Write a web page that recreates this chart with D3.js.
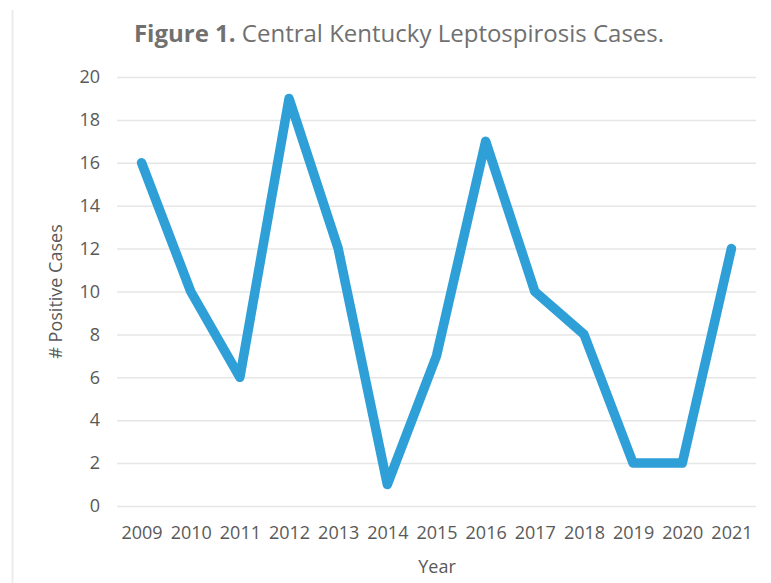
<!DOCTYPE html>
<html>
<head>
<meta charset="utf-8">
<script src="https://cdn.jsdelivr.net/npm/d3@7"></script>
<style>
  body { margin: 0; background: #fff; }
  text { font-family: "Open Sans", sans-serif; }
</style>
</head>
<body>
<div id="d3-container"></div>
<script>
// chart data
const years = ['2009', '2010', '2011', '2012', '2013', '2014', '2015', '2016', '2017', '2018', '2019', '2020', '2021'];
const cases = [16, 10, 6, 19, 12, 1, 7, 17, 10, 8, 2, 2, 12];
const yTicks = [0, 2, 4, 6, 8, 10, 12, 14, 16, 18, 20];

let margin = { top: 77, left: 117, right: 15, bottom: 77 },
  width = 771 - margin.left - margin.right,
  height = 583 - margin.top - margin.bottom;

let svg = d3
  .select('#d3-container')
  .append('svg')
  .attr('width', 771)
  .attr('height', 583)
  .style('background-color', 'white');

// faint frame line on the left
svg.append('line')
  .attr('x1', 12.5).attr('x2', 12.5)
  .attr('y1', 10).attr('y2', 583)
  .attr('stroke', '#ececec')
  .attr('stroke-width', 2);

var xScale = d3.scalePoint().domain(years).range([0, width]).padding(0.5),
  yScale = d3.scaleLinear().domain([0, 20]).range([height, 0]);

var g = svg.append('g').attr('transform', 'translate(' + margin.left + ',' + margin.top + ')');

// gridlines + y labels
var yAxis = g.append('g')
  .call(d3.axisLeft(yScale).tickValues(yTicks).tickSize(-width).tickPadding(17));
yAxis.select('.domain').remove();
yAxis.selectAll('.tick line').attr('stroke', '#e6e6e6').attr('stroke-width', 1.5);
yAxis.selectAll('.tick text')
  .attr('fill', '#595959')
  .style('font-size', '18px');

// x labels
var xAxis = g.append('g')
  .attr('transform', 'translate(0,' + height + ')')
  .call(d3.axisBottom(xScale).tickSize(0).tickPadding(20));
xAxis.select('.domain').remove();
xAxis.selectAll('.tick text')
  .attr('fill', '#595959')
  .style('font-size', '18px');

// line
var line = d3.line()
  .x(function (d, i) { return xScale(years[i]); })
  .y(function (d) { return yScale(d); });

g.append('path')
  .datum(cases)
  .attr('d', line)
  .attr('fill', 'none')
  .attr('stroke', '#2f9fd8')
  .attr('stroke-width', 9.5)
  .attr('stroke-linejoin', 'round')
  .attr('stroke-linecap', 'round');

// title
var title = svg.append('text')
  .attr('x', 399)
  .attr('y', 42)
  .attr('text-anchor', 'middle')
  .attr('fill', '#707070')
  .style('font-size', '24px');
title.append('tspan').style('font-weight', 'bold').text('Figure 1.');
title.append('tspan').text(' Central Kentucky Leptospirosis Cases.');

// axis titles
svg.append('text')
  .attr('x', 437)
  .attr('y', 573)
  .attr('text-anchor', 'middle')
  .attr('fill', '#595959')
  .style('font-size', '18px')
  .text('Year');

svg.append('text')
  .attr('transform', 'translate(62,' + (margin.top + height / 2) + ') rotate(-90)')
  .attr('text-anchor', 'middle')
  .attr('fill', '#595959')
  .style('font-size', '18px')
  .text('# Positive Cases');
</script>
</body>
</html>
